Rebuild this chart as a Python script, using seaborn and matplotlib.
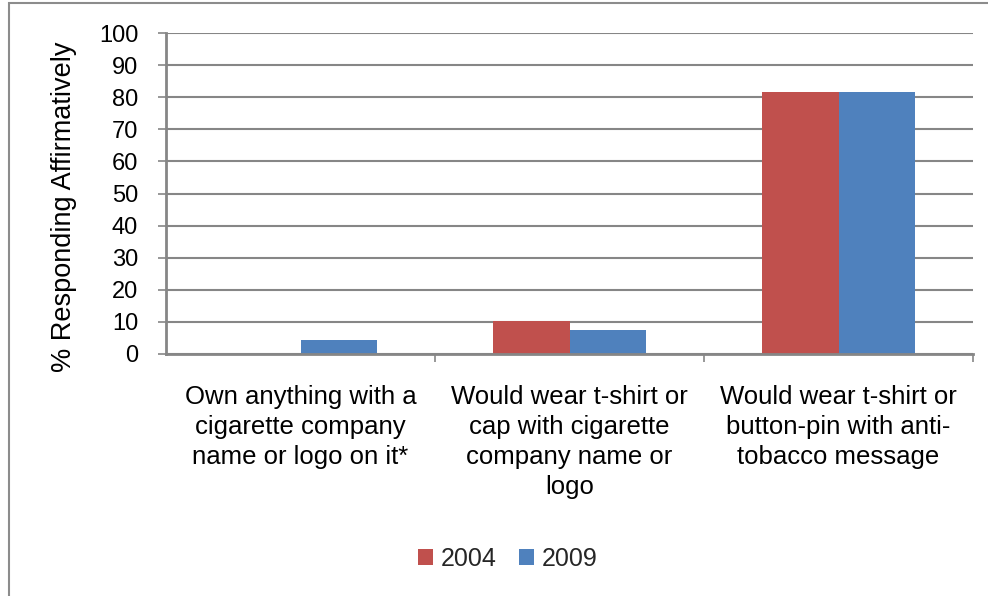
import matplotlib
matplotlib.use("Agg")
import matplotlib.pyplot as plt
from matplotlib.patches import Rectangle
import seaborn as sns
import pandas as pd

categories = [
    "Own anything with a\ncigarette company\nname or logo on it*",
    "Would wear t-shirt or\ncap with cigarette\ncompany name or\nlogo",
    "Would wear t-shirt or\nbutton-pin with anti-\ntobacco message",
]
years = ["2004", "2009"]
values_2004 = [0.0, 10.2, 81.7]
values_2009 = [4.3, 7.6, 81.6]
y_ticks = [0, 10, 20, 30, 40, 50, 60, 70, 80, 90, 100]

df = pd.DataFrame({
    "category": categories * 2,
    "year": [years[0]] * 3 + [years[1]] * 3,
    "value": values_2004 + values_2009,
})

sns.set_theme(style="white")
plt.rcParams["font.family"] = ["Liberation Sans", "DejaVu Sans"]

fig = plt.figure(figsize=(9.88, 5.96), dpi=100)
ax = fig.add_axes([166 / 988, 1 - 354 / 596, (973 - 166) / 988, (354 - 33) / 596])

palette = {"2004": "#C0504D", "2009": "#4F81BD"}
sns.barplot(data=df, x="category", y="value", hue="year", palette=palette,
            width=0.57, gap=0, saturation=1, ax=ax, legend=True,
            edgecolor="none", linewidth=0)

grid_c = "#868686"
ax.set_ylim(0, 100)
ax.set_xlim(-0.5, 2.5)
ax.set_yticks(y_ticks)
ax.set_yticklabels([str(t) for t in y_ticks], fontsize=17, color="black")
ax.yaxis.grid(True, color=grid_c, linewidth=1.5)
ax.set_axisbelow(True)
ax.tick_params(axis="y", which="major", direction="out", length=6, width=1.2,
               color=grid_c, pad=14, left=True)

ax.set_xticks([0, 1, 2])
ax.set_xticklabels(categories, fontsize=18.5, linespacing=1.33, color="black")
ax.tick_params(axis="x", which="major", length=0, pad=22)
ax.set_xticks([0.5, 1.5, 2.5], minor=True)
ax.tick_params(axis="x", which="minor", direction="out", length=6, width=1.2,
               color=grid_c, bottom=True)

for side in ("top", "right"):
    ax.spines[side].set_visible(False)
for side in ("left", "bottom"):
    ax.spines[side].set_color(grid_c)
    ax.spines[side].set_linewidth(2)

ax.set_xlabel("")
ax.set_ylabel("% Responding Affirmatively", fontsize=19.5, color="black")
ax.yaxis.set_label_coords(-0.11, 0.46)

leg = ax.legend(loc="center", bbox_to_anchor=(508 / 988, (596 - 559) / 596),
                bbox_transform=fig.transFigure, ncol=2, frameon=False,
                fontsize=18, handlelength=0.6, handleheight=0.6,
                handletextpad=0.3, columnspacing=0.9)

# outer chart border
fig.patches.append(Rectangle((9 / 988, -0.05), 1.1, 1 - 3 / 596 + 0.05,
                             transform=fig.transFigure, fill=False,
                             edgecolor="#8C8C8C", linewidth=1.5))

fig.savefig("out.png", dpi=100)
